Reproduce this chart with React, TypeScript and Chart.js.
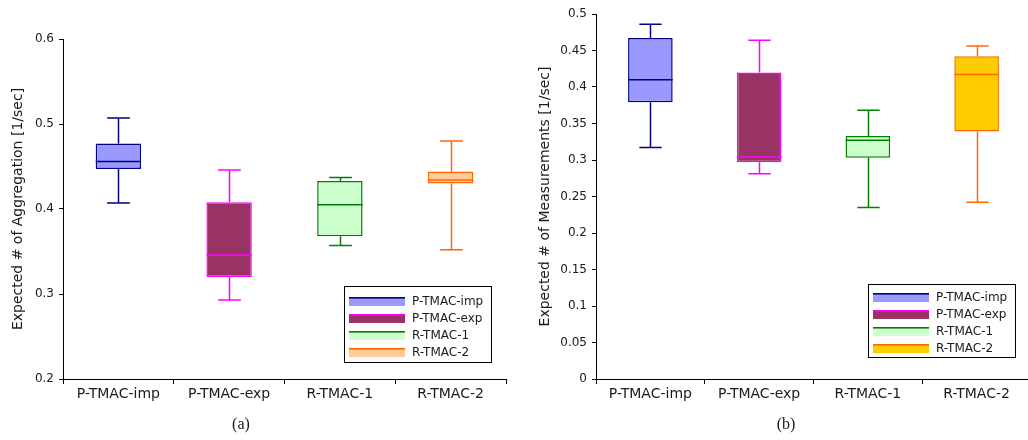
import React, { useEffect, useRef } from "react";
import { Chart, registerables } from "chart.js";

Chart.register(...registerables);

// ---------- data ----------
const categories = ["P-TMAC-imp", "P-TMAC-exp", "R-TMAC-1", "R-TMAC-2"];

// (a) Expected # of Aggregation [1/sec]
const aggMin = [0.407, 0.293, 0.357, 0.352];
const aggQ1 = [0.447, 0.320, 0.368, 0.430];
const aggMedian = [0.456, 0.346, 0.405, 0.434];
const aggQ3 = [0.477, 0.408, 0.433, 0.444];
const aggMax = [0.507, 0.446, 0.437, 0.480];

// (b) Expected # of Measurements [1/sec]
const measMin = [0.317, 0.281, 0.235, 0.242];
const measQ1 = [0.379, 0.297, 0.303, 0.339];
const measMedian = [0.410, 0.304, 0.327, 0.417];
const measQ3 = [0.467, 0.420, 0.333, 0.442];
const measMax = [0.486, 0.464, 0.368, 0.456];

const aggFill = ["#9999FF", "#993366", "#CCFFCC", "#FFCC99"];
const measFill = ["#9999FF", "#993366", "#CCFFCC", "#FFCC00"];
const lineColors = ["#000080", "#FF00FF", "#008000", "#FF6600"];

const FONT = "'DejaVu Sans', Verdana, sans-serif";
const TEXT = "#1a1a1a";

type Spec = {
  min: number[];
  q1: number[];
  median: number[];
  q3: number[];
  max: number[];
  fills: string[];
  yMin: number;
  yMax: number;
  yStep: number;
  title: string;
  yAxisWidth: number;
  titlePad: number;
  padTop: number;
  padRight: number;
  legend: { x: number; y: number; w: number; h: number; rowTop: number };
};

function makeBoxPlugin(spec: Spec) {
  return {
    id: "boxWhiskers",
    afterDatasetsDraw(chart: any) {
      const { ctx } = chart;
      const y = chart.scales.y;
      const meta = chart.getDatasetMeta(0);
      ctx.save();
      ctx.lineWidth = 1.5;
      spec.min.forEach((mn, i) => {
        const bar = meta.data[i];
        const cx = Math.round(bar.x) + 0.5;
        const half = bar.width / 2;
        const cap = half * 0.5;
        const col = lineColors[i];
        ctx.strokeStyle = col;
        const yMin = y.getPixelForValue(mn);
        const yQ1 = y.getPixelForValue(spec.q1[i]);
        const yQ3 = y.getPixelForValue(spec.q3[i]);
        const yMax = y.getPixelForValue(spec.max[i]);
        const yMed = y.getPixelForValue(spec.median[i]);
        ctx.beginPath();
        ctx.moveTo(cx, yQ3);
        ctx.lineTo(cx, yMax);
        ctx.moveTo(cx - cap, yMax);
        ctx.lineTo(cx + cap, yMax);
        ctx.moveTo(cx, yQ1);
        ctx.lineTo(cx, yMin);
        ctx.moveTo(cx - cap, yMin);
        ctx.lineTo(cx + cap, yMin);
        ctx.moveTo(bar.x - half, yMed);
        ctx.lineTo(bar.x + half, yMed);
        ctx.stroke();
      });
      ctx.restore();
    },
    afterDraw(chart: any) {
      const { ctx } = chart;
      const L = spec.legend;
      ctx.save();
      ctx.fillStyle = "#ffffff";
      ctx.fillRect(L.x, L.y, L.w, L.h);
      ctx.strokeStyle = "#000000";
      ctx.lineWidth = 1;
      ctx.strokeRect(L.x + 0.5, L.y + 0.5, L.w, L.h);
      ctx.font = `12px ${FONT}`;
      ctx.textBaseline = "middle";
      ctx.textAlign = "left";
      categories.forEach((c, i) => {
        const top = L.y + L.rowTop + i * 17;
        const sx = L.x + 5;
        ctx.fillStyle = spec.fills[i];
        ctx.fillRect(sx, top, 56, 9);
        ctx.fillStyle = lineColors[i];
        ctx.fillRect(sx, top, 56, 1.6);
        ctx.fillStyle = TEXT;
        ctx.fillText(c, sx + 63, top + 4.5);
      });
      ctx.restore();
    },
  };
}

function BoxChart({ spec, left, width, height }: { spec: Spec; left: number; width: number; height: number }) {
  const ref = useRef<HTMLCanvasElement>(null);
  useEffect(() => {
    const chart = new Chart(ref.current!, {
      type: "bar",
      data: {
        labels: categories,
        datasets: [
          {
            data: categories.map((_, i) => [spec.q1[i], spec.q3[i]]) as any,
            backgroundColor: spec.fills,
            borderColor: lineColors,
            borderWidth: 1.5,
            borderSkipped: false,
            barPercentage: 0.41,
            categoryPercentage: 1,
          },
        ],
      },
      options: {
        responsive: false,
        animation: false,
        devicePixelRatio: 1,
        layout: { padding: { top: spec.padTop, right: spec.padRight, left: 0, bottom: 440 - 379 - 30 } },
        plugins: { legend: { display: false }, tooltip: { enabled: false } },
        scales: {
          x: {
            afterFit: (s: any) => {
              s.height = 30;
            },
            grid: { display: true, drawOnChartArea: false, color: "#000", tickColor: "#000", tickLength: 5, offset: true },
            border: { display: true, color: "#000", width: 1 },
            ticks: { color: TEXT, font: { family: FONT, size: 14 }, padding: 2, maxRotation: 0 },
          },
          y: {
            min: spec.yMin,
            max: spec.yMax,
            afterFit: (s: any) => {
              s.width = spec.yAxisWidth;
            },
            grid: { display: true, drawOnChartArea: false, color: "#000", tickColor: "#000", tickLength: 4 },
            border: { display: true, color: "#000", width: 1 },
            ticks: {
              stepSize: spec.yStep,
              color: TEXT,
              font: { family: FONT, size: 12 },
              padding: 5,
              callback: (v: any) => String(Number(Number(v).toFixed(2))),
            },
            title: {
              display: true,
              text: spec.title,
              color: TEXT,
              font: { family: FONT, size: 14, weight: "normal" },
              padding: { top: spec.titlePad, bottom: 0 },
            },
          },
        },
      },
      plugins: [makeBoxPlugin(spec)],
    } as any);
    return () => chart.destroy();
  }, []);
  return (
    <canvas
      ref={ref}
      width={width}
      height={height}
      style={{ position: "absolute", left, top: 0, width, height }}
    />
  );
}

const specA: Spec = {
  min: aggMin,
  q1: aggQ1,
  median: aggMedian,
  q3: aggQ3,
  max: aggMax,
  fills: aggFill,
  yMin: 0.2,
  yMax: 0.6,
  yStep: 0.1,
  title: "Expected # of Aggregation [1/sec]",
  yAxisWidth: 63,
  titlePad: 9.6,
  padTop: 39,
  padRight: 520 - 506,
  legend: { x: 344, y: 286, w: 147, h: 76, rowTop: 11 },
};

const specB: Spec = {
  min: measMin,
  q1: measQ1,
  median: measMedian,
  q3: measQ3,
  max: measMax,
  fills: measFill,
  yMin: 0,
  yMax: 0.5,
  yStep: 0.05,
  title: "Expected # of Measurements [1/sec]",
  yAxisWidth: 76,
  titlePad: 16.6,
  padTop: 14,
  padRight: 9,
  legend: { x: 868 - 520, y: 284, w: 147, h: 73, rowTop: 9 },
};

const captionStyle: React.CSSProperties = {
  position: "absolute",
  width: 40,
  top: 414,
  textAlign: "center",
  font: "16px 'Liberation Serif', 'DejaVu Serif', serif",
  color: TEXT,
  lineHeight: "20px",
};

export default function App() {
  return (
    <div
      style={{
        position: "fixed",
        left: 0,
        top: 0,
        width: 1028,
        height: 440,
        overflow: "hidden",
        background: "#fff",
      }}
    >
      <BoxChart spec={specA} left={0} width={520} height={440} />
      <BoxChart spec={specB} left={520} width={520} height={440} />
      <div style={{ ...captionStyle, left: 221 }}>(a)</div>
      <div style={{ ...captionStyle, left: 766 }}>(b)</div>
    </div>
  );
}
